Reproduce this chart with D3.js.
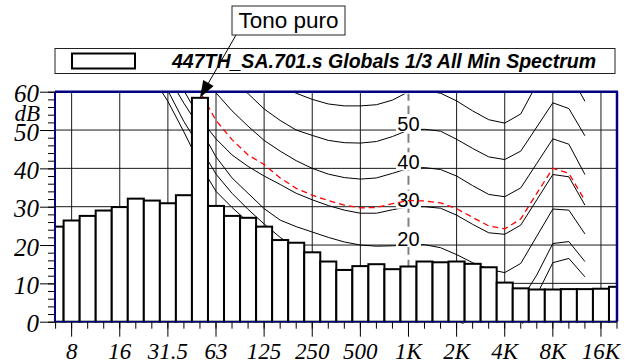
<!DOCTYPE html>
<html>
<head>
<meta charset="utf-8">
<title>447TH_SA.701.s Globals 1/3 All Min Spectrum</title>
<script src="https://cdnjs.cloudflare.com/ajax/libs/d3/7.8.5/d3.min.js"></script>
<style>
  body { margin: 0; background: #fff; }
  svg { display: block; }
</style>
</head>
<body>
<div id="chart"></div>
<script>
// 1/3 octave bands shown on the chart (6.3 Hz .. 20 kHz)
const bands = ["6.3","8","10","12.5","16","20","25","31.5","40","50","63","80","100","125","160","200",
  "250","315","400","500","630","800","1K","1.25K","1.6K","2K","2.5K","3.15K","4K","5K","6.3K","8K",
  "10K","12.5K","16K","20K"];
// min spectrum, dB
const levels = [24.8,26.4,27.6,29.0,29.9,32.1,31.6,30.9,33.0,58.4,30.2,27.6,27.1,24.8,21.3,20.6,
  18.1,15.7,13.5,14.5,15.0,13.7,14.4,15.7,15.5,15.7,15.1,14.2,10.2,8.7,8.4,8.4,8.5,8.5,8.6,9.1];

const octaveTicks = ["8","16","31.5","63","125","250","500","1K","2K","4K","8K","16K"];
const dbTicks = [0,10,20,30,40,50,60];

// equal loudness curves, 20 Hz .. 12.5 kHz
const curveBands = bands.slice(5, 34);
const phon0  = [72,64,57.5,49.5,41,34,29.8,26,22.5,19,16,13.5,11,9,7.5,6.3,5.5,5,4.5,3,0.5,-2,-4,-4.5,-1.5,7,15.4,16.5,11.7];
const phon10 = [74,67,60.3,52.2,45.5,38.5,33.5,29.3,25.5,22,19,16.5,14.5,12.8,11.5,10.8,10.2,10,10,9.6,8.2,6.2,4.2,3.5,5.5,12.2,20.4,20.9,15.7];
const phon20 = [78,71,64,57,50.5,43,37.5,33.5,29.5,26.5,24.8,23.4,22,20.8,20,19.7,19.8,20,20.1,19.3,17.5,15.4,13.7,12.8,15.2,22.3,29.4,29.1,22.9];
const phon30 = [84,76,68,60.3,53,47.7,43.5,40.5,38,35.8,33.5,31.8,30.3,29.1,28.3,28.3,29.2,30,30,29.6,27.8,25.4,23.2,22.8,25.2,31.8,38.4,37.8,30.4];
const phon40 = [90,83,76,70,64.5,59.7,55,51,47.3,44.5,42,40,38.5,37.6,37.2,37.5,38.7,40,40.2,39.7,38,35.5,33.2,32.6,34.9,41.3,47.7,46.3,38.4];
const phon50 = [96,89,83,77,72,67.5,63.5,59.5,55.5,52.5,50,48.6,47.3,46.7,46.6,47,48.3,50,50.2,49.7,47.6,45.2,43,42.3,44.5,50.8,57.1,55.6,48.5];
const phon60 = [102,96,90,85,80,76,72,68,64.5,61.7,59.6,58,56.8,56.3,56.3,56.6,57.8,60,60.3,59.6,57.6,55,52.7,51.8,54.2,62,66.5,65,57.5];
const redCurve = [85,78,71,66,60,52.5,47.5,43.5,41,37.5,34.8,33,31.6,30.4,29.7,29.8,30.8,31.6,31.5,31,29.5,27.2,25,24.2,26.8,33.5,40,38.7,31.6];

const blackCurves = [phon0, phon10, phon20, phon30, phon40, phon50, phon60];
const curveNames = [0, 10, 20, 30, 40, 50, 60];
const labelledCurves = [20, 30, 40, 50, 60];

const legendText = "447TH_SA.701.s Globals 1/3 All Min Spectrum";
const calloutText = "Tono puro";
const peakBand = "50";

const W = 629, H = 364;
const plot = {left: 55, right: 617, top: 91.7, bottom: 321.7};
const serif = "'Liberation Serif', 'Times New Roman', serif";
const sans = "'Liberation Sans', Arial, sans-serif";
const navy = "#000080";

const svg = d3.select("#chart").append("svg")
    .attr("width", W)
    .attr("height", H);

const x = d3.scaleBand().domain(bands).range([47.58, 625.02]).padding(0);
const bw = x.bandwidth();
const cx = b => x(b) + bw / 2;
const y = d3.scaleLinear().domain([0, 60]).range([plot.bottom, plot.top]);

svg.append("defs").append("clipPath").attr("id", "plotClip")
  .append("rect")
    .attr("x", plot.left).attr("y", plot.top)
    .attr("width", plot.right - plot.left)
    .attr("height", plot.bottom - plot.top + 2);

const inner = svg.append("g").attr("clip-path", "url(#plotClip)");

// grid
inner.append("g").selectAll("line")
  .data([10, 20, 30, 40, 50])
  .join("line")
    .attr("x1", plot.left).attr("x2", plot.right)
    .attr("y1", d => y(d)).attr("y2", d => y(d))
    .attr("stroke", "#1a1a1a").attr("stroke-width", 1);

inner.append("g").selectAll("line")
  .data(octaveTicks)
  .join("line")
    .attr("x1", d => cx(d)).attr("x2", d => cx(d))
    .attr("y1", plot.top).attr("y2", plot.bottom)
    .attr("stroke", d => d == "1K" ? "#808080" : "#1a1a1a")
    .attr("stroke-width", d => d == "1K" ? 2 : 1)
    .attr("stroke-dasharray", d => d == "1K" ? "9,5" : null);

// loudness curves
const line = d3.line()
    .x((d, i) => cx(curveBands[i]))
    .y(d => y(d));

inner.append("g").selectAll("path")
  .data(blackCurves)
  .join("path")
    .attr("d", line)
    .attr("fill", "none")
    .attr("stroke", "#000")
    .attr("stroke-width", 1);

// curve labels at 1 kHz
const k1 = curveBands.indexOf("1K");
const lab = inner.append("g").selectAll("g")
  .data(labelledCurves)
  .join("g")
    .attr("transform", d => "translate(" + cx("1K") + "," + y(blackCurves[curveNames.indexOf(d)][k1]) + ")");
lab.append("rect")
    .attr("x", -12.5).attr("y", -16).attr("width", 25).attr("height", 18)
    .attr("fill", "#fff");
lab.append("text")
    .attr("text-anchor", "middle")
    .attr("y", 0.5)
    .style("font-family", sans)
    .style("font-size", "20px")
    .text(d => d);

inner.append("path")
    .datum(redCurve)
    .attr("d", line)
    .attr("fill", "none")
    .attr("stroke", "#ff0000")
    .attr("stroke-width", 1.3)
    .attr("stroke-dasharray", "6,4");

// bars
inner.append("g").selectAll("rect")
  .data(levels)
  .join("rect")
    .attr("x", (d, i) => x(bands[i]))
    .attr("y", d => y(d))
    .attr("width", bw)
    .attr("height", d => y(0) - y(d))
    .attr("fill", "#fff")
    .attr("stroke", "#000")
    .attr("stroke-width", 2);

// frame
svg.append("line").attr("x1", plot.left).attr("x2", plot.right + 1)
    .attr("y1", plot.top).attr("y2", plot.top)
    .attr("stroke", navy).attr("stroke-width", 2.5);
svg.append("line").attr("x1", plot.left).attr("x2", plot.left)
    .attr("y1", plot.top).attr("y2", plot.bottom)
    .attr("stroke", navy).attr("stroke-width", 2);
svg.append("line").attr("x1", plot.right).attr("x2", plot.right)
    .attr("y1", plot.top).attr("y2", plot.bottom)
    .attr("stroke", navy).attr("stroke-width", 2.5);
svg.append("line").attr("x1", plot.left).attr("x2", plot.right)
    .attr("y1", plot.bottom).attr("y2", plot.bottom)
    .attr("stroke", navy).attr("stroke-width", 1.2);

// y axis
const yMinor = svg.append("g")
    .attr("transform", "translate(" + plot.left + ",0)")
    .call(d3.axisLeft(y).tickValues(d3.range(0, 61, 2)).tickSize(7).tickFormat(""));
yMinor.select(".domain").remove();

const yAxis = svg.append("g")
    .attr("transform", "translate(" + plot.left + ",0)")
    .call(d3.axisLeft(y).tickValues(dbTicks).tickSize(15).tickPadding(1));
yAxis.select(".domain").remove();
yAxis.selectAll("text")
    .attr("dy", "0.4em")
    .style("font-family", serif)
    .style("font-style", "italic")
    .style("font-size", "25px");

svg.append("text")
    .attr("x", 40).attr("y", 120.5)
    .attr("text-anchor", "end")
    .style("font-family", serif)
    .style("font-style", "italic")
    .style("font-size", "23px")
    .text("dB");

// x axis
const xMinor = svg.append("g")
    .attr("transform", "translate(0," + plot.bottom + ")")
    .call(d3.axisBottom(x).tickSize(7).tickFormat(""));
xMinor.select(".domain").remove();

const xAxis = svg.append("g")
    .attr("transform", "translate(0," + plot.bottom + ")")
    .call(d3.axisBottom(x).tickValues(octaveTicks).tickSize(15).tickPadding(6));
xAxis.select(".domain").remove();
xAxis.selectAll("text")
    .style("font-family", serif)
    .style("font-style", "italic")
    .style("font-size", "23px");

// legend
svg.append("rect")
    .attr("x", 55).attr("y", 48.5).attr("width", 560).attr("height", 25)
    .attr("fill", "#fff").attr("stroke", "#222").attr("stroke-width", 1);
svg.append("rect")
    .attr("x", 72).attr("y", 53.5).attr("width", 63).attr("height", 15)
    .attr("fill", "#fff").attr("stroke", "#000").attr("stroke-width", 2);
svg.append("text")
    .attr("x", 172).attr("y", 67.5)
    .style("font-family", sans)
    .style("font-weight", "bold")
    .style("font-style", "italic")
    .style("font-size", "19.5px")
    .text(legendText);

// callout
const tip = [cx(peakBand), y(levels[bands.indexOf(peakBand)])];
const from = [236, 35];
const len = Math.hypot(tip[0] - from[0], tip[1] - from[1]);
const ux = (tip[0] - from[0]) / len, uy = (tip[1] - from[1]) / len;
const hb = [tip[0] - ux * 17, tip[1] - uy * 17];
svg.append("line")
    .attr("x1", from[0]).attr("y1", from[1])
    .attr("x2", hb[0]).attr("y2", hb[1])
    .attr("stroke", "#000").attr("stroke-width", 1);
svg.append("path")
    .attr("d", "M" + tip + "L" + [hb[0] - uy * 6, hb[1] + ux * 6] + "L" + [hb[0] + uy * 6, hb[1] - ux * 6] + "Z")
    .attr("fill", "#000");
svg.append("rect")
    .attr("x", 232).attr("y", 6).attr("width", 113).attr("height", 29)
    .attr("fill", "#fff").attr("stroke", "#222").attr("stroke-width", 1);
svg.append("text")
    .attr("x", 288.5).attr("y", 28)
    .attr("text-anchor", "middle")
    .style("font-family", sans)
    .style("font-size", "22.5px")
    .text(calloutText);
</script>
</body>
</html>
